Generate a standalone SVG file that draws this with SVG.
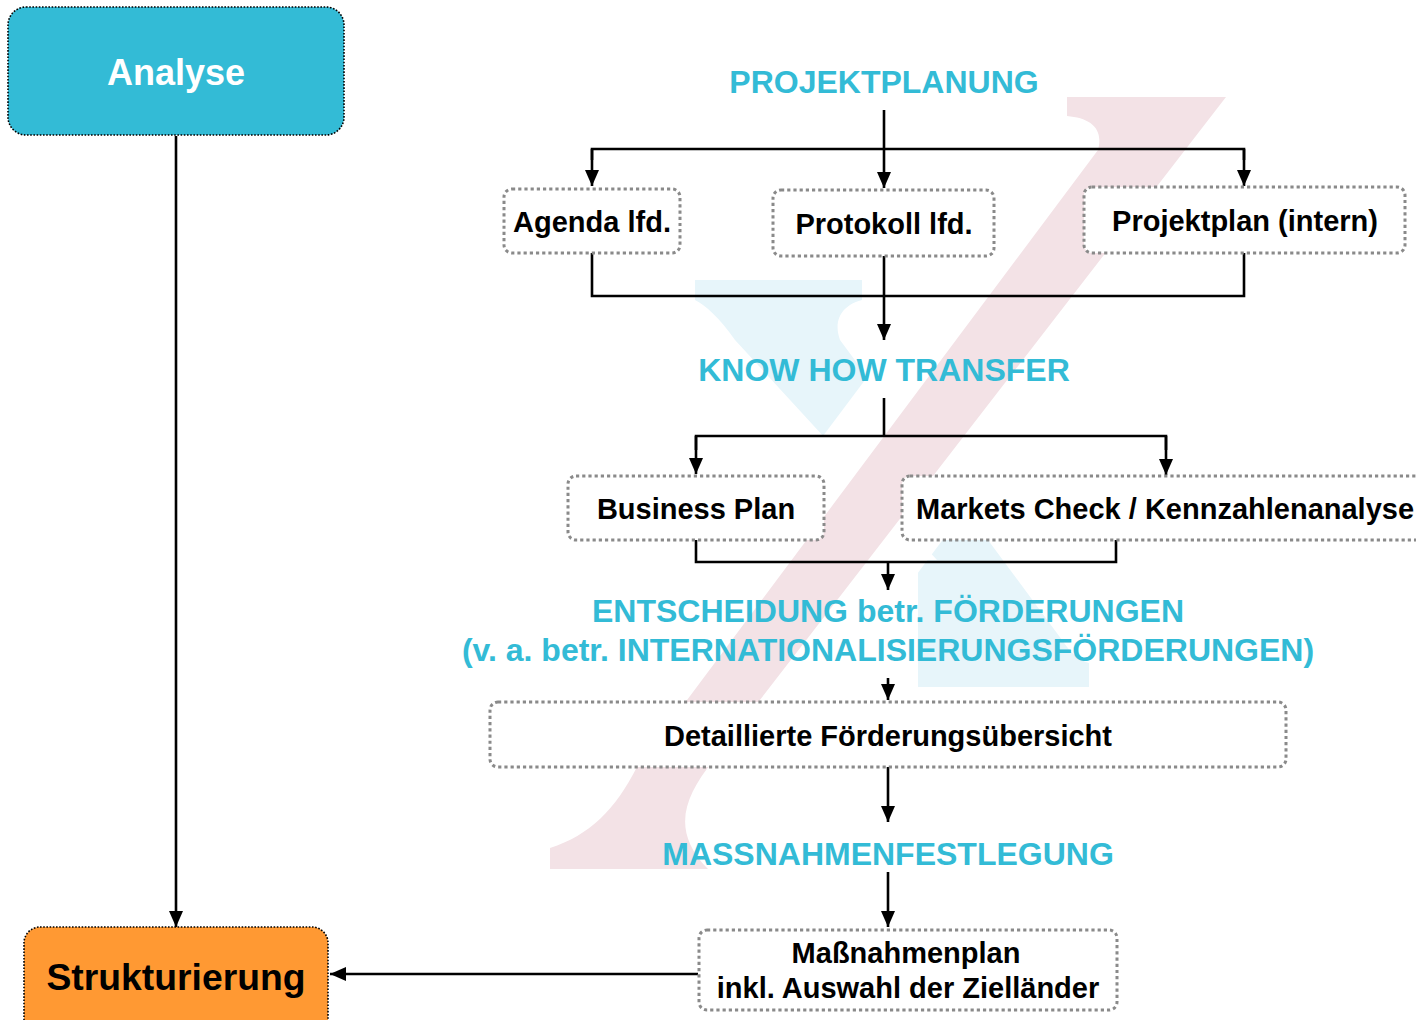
<svg xmlns="http://www.w3.org/2000/svg" width="1416" height="1020" viewBox="0 0 1416 1020">
<style>
.wm-pink{fill:#f3e2e6}
.wm-blue{fill:#e7f5fa}
.box{fill:#ffffff;stroke:#8a8a8a;stroke-width:3;stroke-dasharray:3.2 3}
.main{stroke:#000;stroke-width:1.6;stroke-dasharray:1.6 1.6}
.lbl{font-family:"Liberation Sans",Arial,sans-serif;font-weight:bold;font-size:29px;fill:#000;text-anchor:middle}
.head{font-family:"Liberation Sans",Arial,sans-serif;font-weight:bold;font-size:32px;fill:#33bbd6;text-anchor:middle}
.big{font-family:"Liberation Sans",Arial,sans-serif;font-weight:bold;font-size:36px;text-anchor:middle}
.ln{fill:none;stroke:#000;stroke-width:2.6}
.arr{fill:none;stroke:#000;stroke-width:2.6;marker-end:url(#ah)}
</style>
<defs>
<marker id="ah" viewBox="0 0 16 14" refX="16" refY="7" markerWidth="16" markerHeight="14" orient="auto" markerUnits="userSpaceOnUse">
<path d="M0,0 L16,7 L0,14 Z" fill="#000"/>
</marker>
<clipPath id="gapclip">
<path clip-rule="evenodd" d="M0,0H1416V1020H0Z M1150,0 L1347,0 L583,1020 L385,1020 Z"/>
</clipPath>
</defs>
<rect width="1416" height="1020" fill="#ffffff"/>
<g id="watermark">
<path class="wm-blue" clip-path="url(#gapclip)" d="M695,280 L862,280 L862,300 C845,304 832,318 840,340 L1062,640 C1070,652 1078,660 1089,663 L1089,687 L918,687 L918,560 L937,560 L735,340 C720,318 705,305 695,300 Z"/>
<path class="wm-pink" d="M1067,97 L1226,97 L712,762 C685,797 670,830 708,869 L550,869 L550,848 C590,835 615,810 637,767 L1098,150 C1104,128 1090,118 1067,116 Z"/>
</g>
<g id="connectors">
<path class="arr" d="M176,136 V927"/>
<path class="arr" d="M698,974 H330"/>
<path class="arr" d="M884,110 V188"/>
<path class="ln" d="M592,160 V149 H1244 V160"/>
<path class="arr" d="M592,149 V186"/>
<path class="arr" d="M1244,149 V186"/>
<path class="ln" d="M592,253 V296 H1244 V253"/>
<path class="arr" d="M884,256 V340"/>
<path class="ln" d="M884,398 V436"/>
<path class="ln" d="M696,450 V436 H1166 V450"/>
<path class="arr" d="M696,436 V474"/>
<path class="arr" d="M1166,436 V475"/>
<path class="ln" d="M696,540 V562 H1116 V540"/>
<path class="arr" d="M888,562 V590"/>
<path class="arr" d="M888,678 V700"/>
<path class="arr" d="M888,767 V822"/>
<path class="arr" d="M888,872 V927"/>
</g>
<g id="analyse">
<rect class="main" x="8" y="7" width="336" height="128" rx="18" fill="#33bbd6"/>
<text class="big" x="176" y="85" fill="#ffffff">Analyse</text>
</g>
<g id="strukturierung">
<rect class="main" x="24" y="927" width="304" height="110" rx="16" fill="#ff9933"/>
<text class="big" x="176" y="990" fill="#000000" style="font-size:37.3px">Strukturierung</text>
</g>
<g id="projektplanung">
<text class="head" x="884" y="93">PROJEKTPLANUNG</text>
</g>
<g id="agenda">
<rect class="box" x="504" y="189" width="176" height="64" rx="8"/>
<text class="lbl" x="592" y="232">Agenda lfd.</text>
</g>
<g id="protokoll">
<rect class="box" x="773" y="190" width="221" height="66" rx="8"/>
<text class="lbl" x="884" y="234">Protokoll lfd.</text>
</g>
<g id="projektplan">
<rect class="box" x="1084" y="187" width="321" height="66" rx="8"/>
<text class="lbl" x="1245" y="231">Projektplan (intern)</text>
</g>
<g id="knowhow">
<text class="head" x="884" y="381">KNOW HOW TRANSFER</text>
</g>
<g id="businessplan">
<rect class="box" x="568" y="476" width="256" height="64" rx="8"/>
<text class="lbl" x="696" y="519">Business Plan</text>
</g>
<g id="markets">
<rect class="box" x="902" y="476" width="540" height="64" rx="8"/>
<text class="lbl" x="916" y="519" style="text-anchor:start">Markets Check / Kennzahlenanalyse</text>
</g>
<g id="entscheidung">
<text class="head" x="888" y="622">ENTSCHEIDUNG betr. FÖRDERUNGEN</text>
<text class="head" x="888" y="661">(v. a. betr. INTERNATIONALISIERUNGSFÖRDERUNGEN)</text>
</g>
<g id="detail">
<rect class="box" x="490" y="702" width="796" height="65" rx="8"/>
<text class="lbl" x="888" y="746">Detaillierte Förderungsübersicht</text>
</g>
<g id="massnahmen">
<text class="head" x="888" y="865">MASSNAHMENFESTLEGUNG</text>
</g>
<g id="massnahmenplan">
<rect class="box" x="699" y="930" width="418" height="80" rx="8"/>
<text class="lbl" x="906" y="963">Maßnahmenplan</text>
<text class="lbl" x="908" y="998">inkl. Auswahl der Zielländer</text>
</g>
</svg>
